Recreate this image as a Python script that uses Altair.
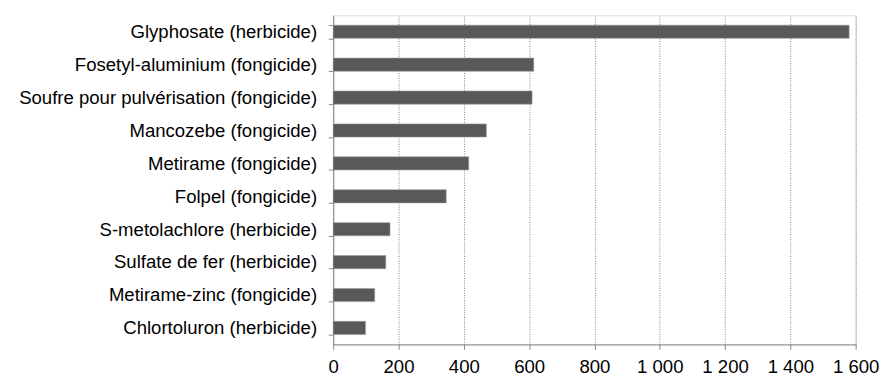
import altair as alt
import pandas as pd

categories = [
    "Glyphosate (herbicide)",
    "Fosetyl-aluminium (fongicide)",
    "Soufre pour pulvérisation (fongicide)",
    "Mancozebe (fongicide)",
    "Metirame (fongicide)",
    "Folpel (fongicide)",
    "S-metolachlore (herbicide)",
    "Sulfate de fer (herbicide)",
    "Metirame-zinc (fongicide)",
    "Chlortoluron (herbicide)",
]
values = [1580, 614, 609, 469, 415, 346, 174, 161, 127, 99]
x_ticks = [0, 200, 400, 600, 800, 1000, 1200, 1400, 1600]

df = pd.DataFrame({"cat": categories, "val": values})

FONT = "Liberation Sans"

chart = alt.Chart(df).mark_bar(
    color="#595959", stroke="#9a9a9a", strokeWidth=0.6
).encode(
    y=alt.Y(
        "cat:N",
        sort=categories,
        title=None,
        scale=alt.Scale(paddingInner=0.6, paddingOuter=0.3),
        axis=alt.Axis(
            tickBand="extent",
            domainColor="#868686",
            tickColor="#868686",
            tickSize=5,
            labelPadding=12,
            labelFont=FONT,
            labelFontSize=19,
            labelColor="#000000",
            labelLimit=400,
            grid=False,
        ),
    ),
    x=alt.X(
        "val:Q",
        title=None,
        scale=alt.Scale(domain=[0, 1600], nice=False),
        axis=alt.Axis(
            values=x_ticks,
            labelExpr="replace(format(datum.value, ','), ',', ' ')",
            domainColor="#868686",
            tickColor="#868686",
            tickSize=5,
            labelPadding=9,
            labelFont=FONT,
            labelFontSize=19,
            labelColor="#000000",
            labelFlush=False,
            grid=True,
            gridColor="#808080",
            gridDash=[1, 1.5],
            gridWidth=1,
        ),
    ),
).properties(
    width=535,
    height=337,
    padding={"left": 10, "top": -6, "right": 5, "bottom": 0},
).configure_view(stroke=None).configure(background="#ffffff")

chart.save("out.html", embed_options={"renderer": "svg", "actions": False})
